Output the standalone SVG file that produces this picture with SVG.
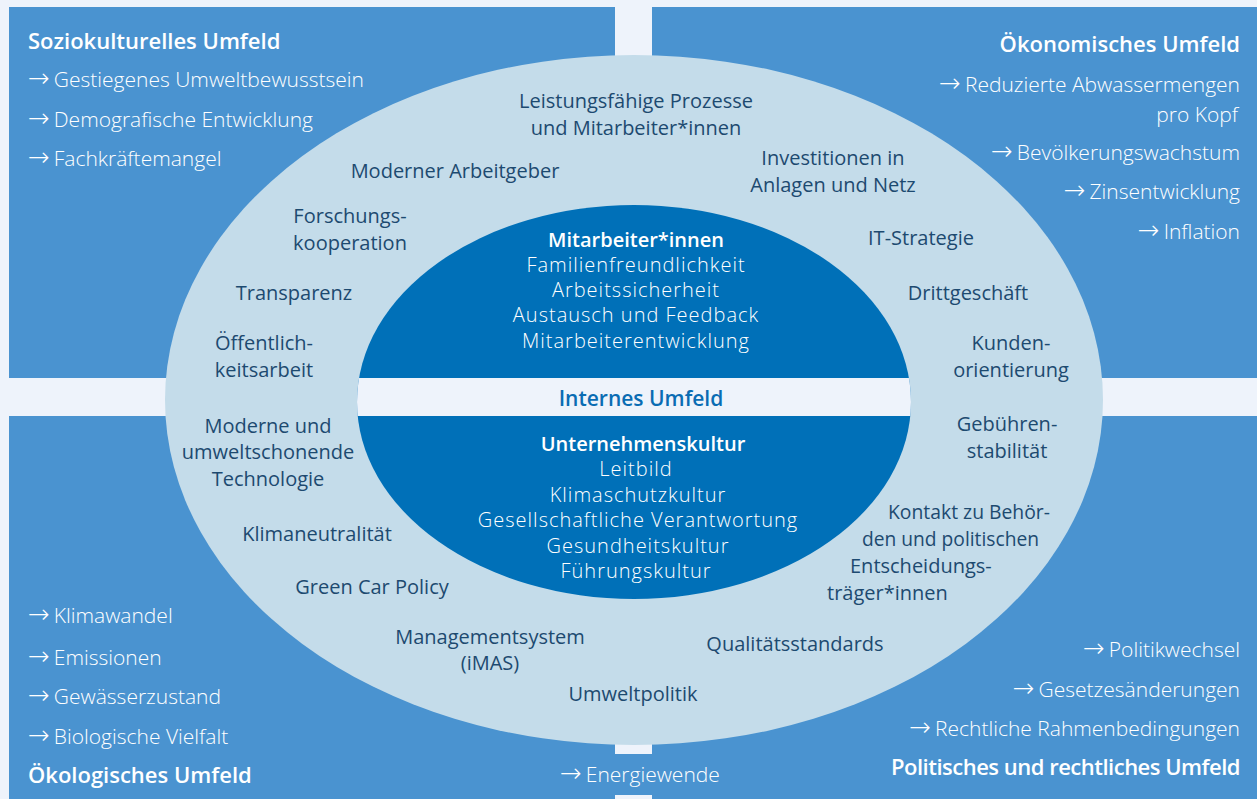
<svg xmlns="http://www.w3.org/2000/svg" width="1257" height="799" viewBox="0 0 1257 799">
<defs>
<clipPath id="innerClip"><ellipse cx="634" cy="402" rx="277" ry="197"/></clipPath>
<style>
.bg{fill:#eef3fb}
.panel{fill:#4a93d0}
.head{font-family:"Open Sans","Noto Sans","Liberation Sans",sans-serif;font-size:22px;font-weight:600;fill:#ffffff}
.item{font-family:"Open Sans","Noto Sans","Liberation Sans",sans-serif;font-size:21px;font-weight:300;fill:#ffffff}
.arr{font-family:"DejaVu Sans","Liberation Sans",sans-serif;font-weight:200;font-size:26px}
.lbl{font-family:"Open Sans","Noto Sans","Liberation Sans",sans-serif;font-size:20px;font-weight:400;fill:#1d4a70;text-anchor:middle}
.lbll{font-family:"Open Sans","Noto Sans","Liberation Sans",sans-serif;font-size:20px;font-weight:400;fill:#1d4a70}
.in{font-family:"Open Sans","Noto Sans","Liberation Sans",sans-serif;font-size:20px;font-weight:300;letter-spacing:1px;fill:#ffffff;text-anchor:middle}
.inb{font-family:"Open Sans","Noto Sans","Liberation Sans",sans-serif;font-size:20px;font-weight:600;fill:#ffffff;text-anchor:middle}
.r{text-anchor:end}
</style>
</defs>
<rect class="bg" x="0" y="0" width="1257" height="799"/>
<g id="panels">
<rect class="panel" x="9" y="7" width="606" height="371"/>
<rect class="panel" x="652" y="7" width="605" height="371"/>
<rect class="panel" x="9" y="416" width="606" height="383"/>
<rect class="panel" x="652" y="416" width="605" height="383"/>
<rect class="panel" x="548" y="754" width="180" height="41"/>
</g>
<g id="outer-ellipse">
<ellipse cx="634" cy="400" rx="469" ry="345" fill="#c4dcea"/>
</g>
<g id="inner-ellipse">
<ellipse cx="634" cy="402" rx="277" ry="197" fill="#0070b8"/>
<rect x="340" y="378" width="590" height="38" fill="#eef3fb" clip-path="url(#innerClip)"/>
</g>
<g id="connectors"></g>
<g id="soziokulturell">
<text class="head" x="28" y="49">Soziokulturelles Umfeld</text>
<text class="item" x="28" y="87"><tspan class="arr">→</tspan><tspan dx="4">Gestiegenes Umweltbewusstsein</tspan></text>
<text class="item" x="28" y="127"><tspan class="arr">→</tspan><tspan dx="4">Demografische Entwicklung</tspan></text>
<text class="item" x="28" y="166"><tspan class="arr">→</tspan><tspan dx="4">Fachkräftemangel</tspan></text>
</g>
<g id="oekonomisch">
<text class="head r" x="1240" y="52">Ökonomisches Umfeld</text>
<text class="item r" x="1240" y="92"><tspan class="arr">→</tspan><tspan dx="4">Reduzierte Abwassermengen</tspan></text>
<text class="item r" x="1238" y="122">pro Kopf</text>
<text class="item r" x="1240" y="160"><tspan class="arr">→</tspan><tspan dx="4">Bevölkerungswachstum</tspan></text>
<text class="item r" x="1240" y="199"><tspan class="arr">→</tspan><tspan dx="4">Zinsentwicklung</tspan></text>
<text class="item r" x="1240" y="239"><tspan class="arr">→</tspan><tspan dx="4">Inflation</tspan></text>
</g>
<g id="oekologisch">
<text class="item" x="28" y="623"><tspan class="arr">→</tspan><tspan dx="4">Klimawandel</tspan></text>
<text class="item" x="28" y="665"><tspan class="arr">→</tspan><tspan dx="4">Emissionen</tspan></text>
<text class="item" x="28" y="704"><tspan class="arr">→</tspan><tspan dx="4">Gewässerzustand</tspan></text>
<text class="item" x="28" y="744"><tspan class="arr">→</tspan><tspan dx="4">Biologische Vielfalt</tspan></text>
<text class="head" x="28" y="783">Ökologisches Umfeld</text>
</g>
<g id="politisch">
<text class="item r" x="1240" y="657"><tspan class="arr">→</tspan><tspan dx="4">Politikwechsel</tspan></text>
<text class="item r" x="1240" y="697"><tspan class="arr">→</tspan><tspan dx="4">Gesetzesänderungen</tspan></text>
<text class="item r" x="1240" y="736"><tspan class="arr">→</tspan><tspan dx="4">Rechtliche Rahmenbedingungen</tspan></text>
<text class="head r" x="1240" y="775" letter-spacing="-0.5">Politisches und rechtliches Umfeld</text>
</g>
<g id="energiewende">
<text class="item" x="560" y="782"><tspan class="arr">→</tspan><tspan dx="4">Energiewende</tspan></text>
</g>
<g id="ring-labels">
<text class="lbl" x="636" y="108">Leistungsfähige Prozesse</text>
<text class="lbl" x="636" y="135">und Mitarbeiter*innen</text>
<text class="lbl" x="455" y="178">Moderner Arbeitgeber</text>
<text class="lbl" x="833" y="165">Investitionen in</text>
<text class="lbl" x="833" y="192">Anlagen und Netz</text>
<text class="lbl" x="350" y="223">Forschungs-</text>
<text class="lbl" x="350" y="250">kooperation</text>
<text class="lbl" x="921" y="245">IT-Strategie</text>
<text class="lbl" x="294" y="300">Transparenz</text>
<text class="lbl" x="968" y="300">Drittgeschäft</text>
<text class="lbl" x="264" y="350">Öffentlich-</text>
<text class="lbl" x="264" y="377">keitsarbeit</text>
<text class="lbl" x="1011" y="350">Kunden-</text>
<text class="lbl" x="1011" y="377">orientierung</text>
<text class="lbl" x="268" y="433">Moderne und</text>
<text class="lbl" x="268" y="459">umweltschonende</text>
<text class="lbl" x="268" y="486">Technologie</text>
<text class="lbl" x="1007" y="431">Gebühren-</text>
<text class="lbl" x="1007" y="458">stabilität</text>
<text class="lbl" x="317" y="541">Klimaneutralität</text>
<text class="lbll" x="888" y="519" textLength="162" lengthAdjust="spacingAndGlyphs">Kontakt zu Behör-</text>
<text class="lbll" x="862" y="546" textLength="177" lengthAdjust="spacingAndGlyphs">den und politischen</text>
<text class="lbll" x="850" y="573">Entscheidungs-</text>
<text class="lbll" x="827" y="600">träger*innen</text>
<text class="lbl" x="372" y="594">Green Car Policy</text>
<text class="lbl" x="490" y="644">Managementsystem</text>
<text class="lbl" x="490" y="670">(iMAS)</text>
<text class="lbl" x="795" y="651">Qualitätsstandards</text>
<text class="lbl" x="633" y="701">Umweltpolitik</text>
</g>
<g id="mitarbeiter">
<text class="inb" x="636" y="247">Mitarbeiter*innen</text>
<text class="in" x="636" y="272">Familienfreundlichkeit</text>
<text class="in" x="636" y="297">Arbeitssicherheit</text>
<text class="in" x="636" y="322">Austausch und Feedback</text>
<text class="in" x="636" y="348">Mitarbeiterentwicklung</text>
</g>
<g id="internes">
<text x="641" y="406" font-family="Open Sans, Noto Sans, Liberation Sans, sans-serif" font-size="21" font-weight="600" fill="#0a6cb3" text-anchor="middle">Internes Umfeld</text>
</g>
<g id="unternehmenskultur">
<text class="inb" x="643" y="451">Unternehmenskultur</text>
<text class="in" x="636" y="476">Leitbild</text>
<text class="in" x="638" y="502">Klimaschutzkultur</text>
<text class="in" x="638" y="527">Gesellschaftliche Verantwortung</text>
<text class="in" x="638" y="553">Gesundheitskultur</text>
<text class="in" x="636" y="578">Führungskultur</text>
</g>
</svg>
